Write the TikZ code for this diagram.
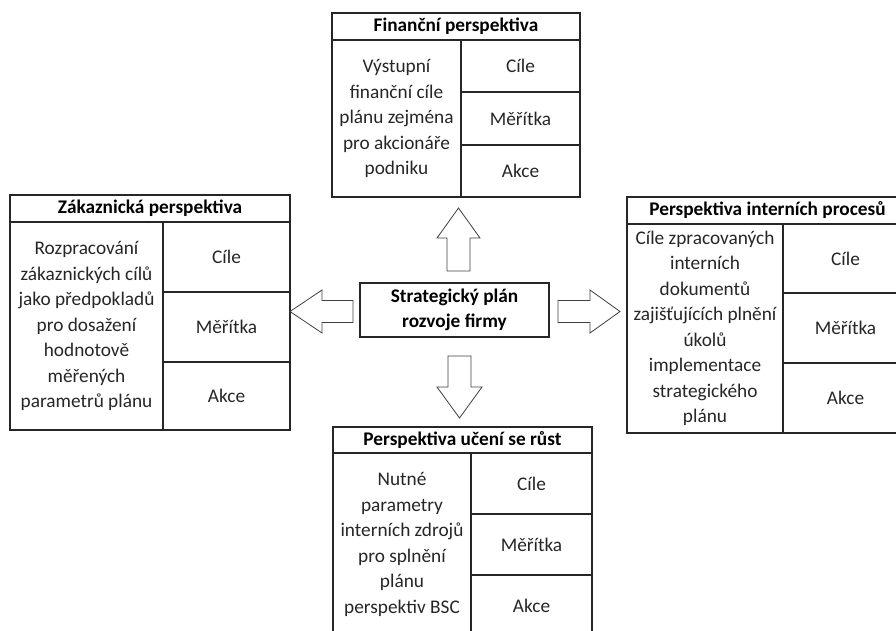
\documentclass[tikz,border=0pt]{standalone}
\usepackage{fontspec}
\setmainfont{Carlito}
\begin{document}
\begin{tikzpicture}[x=1pt,y=-1pt,
  cell/.style={draw=black!85, line width=1.1pt, inner sep=0pt, outer sep=0pt, align=center,
    font=\fontsize{19.3}{25.5}\selectfont, text=black!85},
  ttl/.style={cell, font=\bfseries\fontsize{19.3}{25.5}\selectfont, text=black},
  barrow/.style={draw=black!75, line width=0.8pt, fill=white, line join=miter}]
\useasboundingbox (0,0) rectangle (896,630);
\clip (0,0) rectangle (896,630);

% ---------- Financni perspektiva ----------
\node[ttl, minimum width=248pt, minimum height=27pt] (ft) at (456,26.5) {Finanční perspektiva};
\node[cell, minimum width=129pt, minimum height=157pt] (fb) at (396.5,118.5)
  {Výstupní\\finanční cíle\\plánu zejména\\pro akcionáře\\podniku};
\node[cell, minimum width=119pt, minimum height=52pt] (f1) at (520.5,66) {Cíle};
\node[cell, minimum width=119pt, minimum height=53pt] (f2) at (520.5,118.5) {Měřítka};
\node[cell, minimum width=119pt, minimum height=52pt] (f3) at (520.5,171) {Akce};

% ---------- Zakaznicka perspektiva ----------
\node[ttl, minimum width=280pt, minimum height=27pt] (zt) at (150,208.5) {Zákaznická perspektiva};
\node[cell, minimum width=153pt, minimum height=208pt] (zb) at (86.5,326)
  {Rozpracování\\zákaznických cílů\\jako předpokladů\\pro dosažení\\hodnotově\\měřených\\parametrů plánu};
\node[cell, minimum width=127pt, minimum height=70pt] (z1) at (226.5,257) {Cíle};
\node[cell, minimum width=127pt, minimum height=70pt] (z2) at (226.5,327) {Měřítka};
\node[cell, minimum width=127pt, minimum height=68pt] (z3) at (226.5,396) {Akce};

% ---------- Perspektiva internich procesu ----------
\node[ttl, minimum width=281pt, minimum height=27pt] (pt) at (767.5,210.5) {Perspektiva interních procesů};
\node[cell, minimum width=156pt, minimum height=209pt] (pb) at (705,328.5)
  {Cíle zpracovaných\\interních\\dokumentů\\zajišťujících plnění\\úkolů\\implementace\\strategického\\plánu};
\node[cell, minimum width=125pt, minimum height=69pt] (p1) at (845.5,258.5) {Cíle};
\node[cell, minimum width=125pt, minimum height=70pt] (p2) at (845.5,328) {Měřítka};
\node[cell, minimum width=125pt, minimum height=70pt] (p3) at (845.5,398) {Akce};

% ---------- Perspektiva uceni se rust ----------
\node[ttl, minimum width=259pt, minimum height=26pt] (ut) at (462.5,440) {Perspektiva učení se růst};
\node[cell, minimum width=138pt, minimum height=183pt] (ub) at (402,544.5)
  {Nutné\\parametry\\interních zdrojů\\pro splnění\\plánu\\perspektiv BSC};
\node[cell, minimum width=121pt, minimum height=61pt] (u1) at (531.5,483.5) {Cíle};
\node[cell, minimum width=121pt, minimum height=61pt] (u2) at (531.5,544.5) {Měřítka};
\node[cell, minimum width=121pt, minimum height=61pt] (u3) at (531.5,605.5) {Akce};

% ---------- Center ----------
\node[ttl, minimum width=189pt, minimum height=54pt] (c) at (454.5,310) {Strategický plán\\rozvoje firmy};

% ---------- Block arrows ----------
\draw[barrow] (447,271) -- (447,238) -- (437,238) -- (458.5,208) -- (480,238) -- (470,238) -- (470,271) -- cycle;
\draw[barrow] (448,356) -- (448,387) -- (437,387) -- (459.5,418) -- (482,387) -- (471,387) -- (471,356) -- cycle;
\draw[barrow] (353,300.5) -- (322,300.5) -- (322,290) -- (290,311.5) -- (322,333) -- (322,322.5) -- (353,322.5) -- cycle;
\draw[barrow] (558,300.5) -- (590,300.5) -- (590,290) -- (620,311.5) -- (590,333) -- (590,322.5) -- (558,322.5) -- cycle;
\end{tikzpicture}
\end{document}
